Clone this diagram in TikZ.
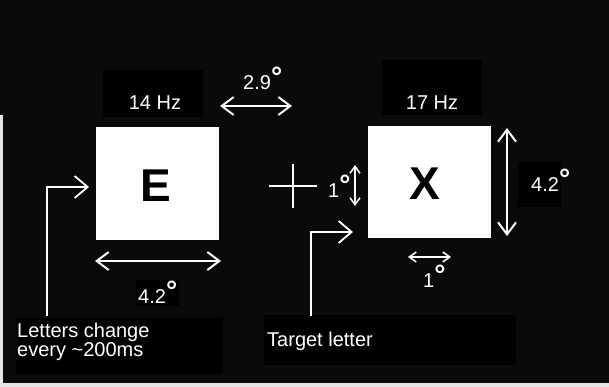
\documentclass[tikz,border=0pt]{standalone}
\usepackage{fontspec}
\setmainfont{Liberation Sans}
\usetikzlibrary{arrows.meta}
\definecolor{bgc}{HTML}{0A0A0A}
\definecolor{edgec}{HTML}{E6E6E6}
\newcommand\dg{\raisebox{3pt}{\fontsize{28}{28}\selectfont\bfseries °}}
\tikzset{
  bighead/.tip={Straight Barb[length=12pt,width=18pt,line width=2pt]},
  smallhead/.tip={Straight Barb[length=7pt,width=10pt,line width=1.5pt]},
  pointhead/.tip={Straight Barb[length=13pt,width=22pt,line width=1.8pt]},
  lbl/.style={text=white, font=\fontsize{20}{20}\selectfont, inner sep=0pt, anchor=base west},
  sq/.style={fill=white, draw=none, inner sep=0pt},
  bigletter/.style={text=black, font=\fontsize{46}{46}\selectfont\bfseries, inner sep=0pt, anchor=base},
  dimbig/.style={draw=white, line width=2pt, {bighead}-{bighead}},
  dimsmall/.style={draw=white, line width=1.5pt, {smallhead}-{smallhead}},
  pointer/.style={draw=white, line width=1.8pt, -{pointhead}},
  crossline/.style={draw=white, line width=2pt},
  textbg/.style={fill=black, draw=none}
}
\begin{document}
\begin{tikzpicture}[x=1pt,y=-1pt]
\useasboundingbox (0,0) rectangle (609,387);
% background
\fill[bgc] (0,0) rectangle (609,387);
\fill[edgec] (0,383) rectangle (609,387);
\fill[edgec] (0,115) rectangle (3,387);
% faint text backgrounds
\fill[textbg] (103,70) rectangle (203,117);
\fill[textbg] (382,60) rectangle (482,115);
\fill[textbg] (16,318) rectangle (223,374);
\fill[textbg] (264,315) rectangle (516,365);
\fill[textbg] (518,162) rectangle (561,207);
\fill[textbg] (136,280) rectangle (179,306);

% squares
\node[sq, minimum width=123pt, minimum height=113pt] (E) at (157.5,183.5) {};
\node[sq, minimum width=123pt, minimum height=112pt] (X) at (429.5,182) {};
\node[bigletter] (Eletter) at (156,201) {E};
\node[bigletter] (Xletter) at (425,199) {X};

% frequency labels
\node[lbl, anchor=base] (f14) at (155,110) {14 Hz};
\node[lbl, anchor=base] (f17) at (432,110) {17 Hz};

% 2.9 deg separation
\node[lbl] (l29) at (243,90) {2.9\dg};
\coordinate (s29a) at (220,106);
\coordinate (s29b) at (292,106);
\draw[dimbig] (s29a) -- (s29b);

% width of E box
\coordinate (ewa) at (95,261);
\coordinate (ewb) at (221,261);
\draw[dimbig] (ewa) -- (ewb);
\node[lbl] (l42b) at (138,303) {4.2\dg};

% height of X box
\coordinate (xha) at (507,128);
\coordinate (xhb) at (507,236);
\draw[dimbig] (xha) -- (xhb);
\node[lbl] (l42r) at (531,192) {4.2\dg};

% fixation cross
\coordinate (cl) at (269,186.5);
\coordinate (cr) at (317,186.5);
\coordinate (ct) at (293,164);
\coordinate (cb) at (293,208);
\draw[crossline] (cl) -- (cr);
\draw[crossline] (ct) -- (cb);
\node[lbl] (l1c) at (328,197) {1\dg};
\coordinate (sva) at (355,165);
\coordinate (svb) at (355,206);
\draw[dimsmall] (sva) -- (svb);

% small horizontal under X
\coordinate (sha) at (408,257);
\coordinate (shb) at (451,257);
\draw[dimsmall] (sha) -- (shb);
\node[lbl] (l1x) at (423,287) {1\dg};

% pointers
\coordinate (p1s) at (47,316);
\coordinate (p1e) at (89,187);
\draw[pointer] (p1s) |- (p1e);
\coordinate (p2s) at (311,316);
\coordinate (p2e) at (353,232);
\draw[pointer] (p2s) |- (p2e);

% bottom texts
\node[lbl] (lc1) at (17,337) {Letters change};
\node[lbl] (lc2) at (17,356) {every {\char"7E}200ms};
\node[lbl] (tl) at (267,346) {Target letter};
\end{tikzpicture}
\end{document}
